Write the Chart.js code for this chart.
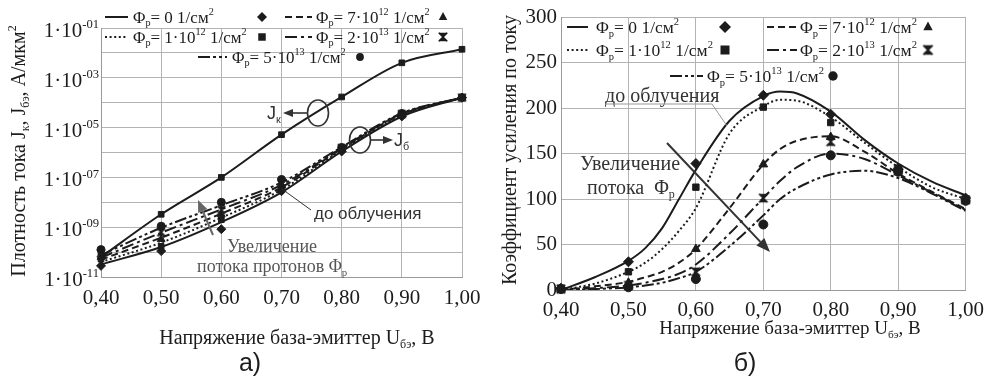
<!DOCTYPE html>
<html>
<head>
<meta charset="utf-8">
<script src="https://cdn.jsdelivr.net/npm/chart.js@4.4.1/dist/chart.umd.min.js"></script>
<style>
html,body{margin:0;padding:0;background:#fff;}
#wrap{position:relative;width:992px;height:383px;background:#fff;overflow:hidden;}
#p1{position:absolute;left:0;top:0;width:495px;height:383px;}
#p2{position:absolute;left:495px;top:0;width:497px;height:383px;}
</style>
</head>
<body>
<div id="wrap">
  <div id="p1"><canvas id="c1"></canvas></div>
  <div id="p2"><canvas id="c2"></canvas></div>
</div>
<script>
// ---------------- DATA ----------------
const voltages = [0.40, 0.50, 0.60, 0.70, 0.80, 0.90, 1.00];
const xTickLabels = ['0,40', '0,50', '0,60', '0,70', '0,80', '0,90', '1,00'];

// (a) current density, A/мкм² (log scale)
const jkLine   = [6.3e-11, 3.3e-9, 1.0e-7, 5.2e-6, 1.7e-4, 4.0e-3, 1.4e-2];
const jkMarks  = [8.0e-11, 3.3e-9, 1.0e-7, 5.2e-6, 1.7e-4, 4.0e-3, 1.4e-2];
const jb0Line    = [3.2e-11, 1.6e-10, 1.6e-9, 2.5e-8, 1.1e-6, 2.8e-5, 1.6e-4];
const jb1e12Line = [4.0e-11, 2.4e-10, 2.4e-9, 3.2e-8, 1.26e-6, 3.2e-5, 1.6e-4];
const jb7e12Line = [5.0e-11, 3.8e-10, 3.5e-9, 4.0e-8, 1.4e-6, 3.4e-5, 1.6e-4];
const jb2e13Line = [6.0e-11, 6.0e-10, 5.2e-9, 5.0e-8, 1.5e-6, 3.6e-5, 1.6e-4];
const jb5e13Line = [7.6e-11, 9.5e-10, 7.6e-9, 6.3e-8, 1.66e-6, 3.8e-5, 1.6e-4];
const jb0Marks    = [2.8e-11, 1.1e-10, 8.3e-10, 2.8e-8, 1.1e-6, 2.8e-5, 1.6e-4];
const jb1e12Marks = [5.2e-11, 1.7e-10, 2.0e-9, 3.5e-8, 1.3e-6, 3.3e-5, 1.6e-4];
const jb7e12Marks = [6.3e-11, 3.3e-10, 3.2e-9, 5.0e-8, 1.4e-6, 3.5e-5, 1.6e-4];
const jb2e13Marks = [8.9e-11, 6.3e-10, 5.0e-9, 6.3e-8, 1.5e-6, 3.5e-5, 1.6e-4];
const jb5e13Marks = [1.26e-10, 1.1e-9, 1.0e-8, 8.3e-8, 1.6e-6, 3.7e-5, 1.6e-4];
const leftDecades = [1e-11,1e-10,1e-9,1e-8,1e-7,1e-6,1e-5,1e-4,1e-3,1e-2,1e-1];
const leftTickValues = [1e-1, 1e-3, 1e-5, 1e-7, 1e-9, 1e-11];
const leftTickExps   = ['-01', '-03', '-05', '-07', '-09', '-11'];

// (б) current gain
const gainLineX  = [0.40,0.45,0.50,0.525,0.55,0.575,0.60,0.65,0.70,0.725,0.75,0.80,0.85,0.90,0.95,1.00];
const h0Line    = [0,14,32,46,68,100,132,186,213,218,216,196,165,139,119,104];
const h1e12Line = [0,7,20,30,45,65,90,172,202,209,208,190,162,135,113,100];
const h7e12Line = [0,4,9,14,20,30,45,90,138,155,164,169,152,128,108,89];
const h2e13Line = [0,2,5,8,12,18,28,62,101,120,135,150,144,126,107,88];
const h5e13Line = [0,1,3,5,8,13,20,48,82,100,112,127,131,123,106,87];
const h0Marks    = [2,31,139,214,193,133,101];
const h1e12Marks = [2,20,113,201,184,134,100];
const h7e12Marks = [1,8,45,138,168,132,99];
const h2e13Marks = [1,5,20,101,163,131,99];
const h5e13Marks = [1,3,12,72,148,130,98];
const gainTicks = [0,50,100,150,200,250,300];

// ---------------- STYLE ----------------
const SERIF = '"Liberation Serif", "Times New Roman", serif';
const SANS = '"Liberation Sans", Arial, sans-serif';
const INK = '#1c1c1c';
const GRID = '#b3b3b3';
const DASH = {
  solid: [], dot: [2, 2.6], dash: [7, 4], dashdot: [12, 4, 3, 4], dashdotdot: [12, 3, 3, 3, 3, 3]
};

function makeHourglass(r) {
  const c = document.createElement('canvas');
  const s = Math.ceil(r * 2 + 2);
  c.width = s; c.height = s;
  const g = c.getContext('2d');
  g.fillStyle = INK; g.strokeStyle = INK; g.lineWidth = 1.6;
  const m = s / 2, a = r * 0.85;
  g.beginPath(); g.moveTo(m - a, m - a); g.lineTo(m + a, m - a); g.lineTo(m, m); g.closePath(); g.fill();
  g.beginPath(); g.moveTo(m - a, m + a); g.lineTo(m + a, m + a); g.lineTo(m, m); g.closePath(); g.fill();
  g.beginPath(); g.moveTo(m - a, m - a); g.lineTo(m + a, m + a); g.moveTo(m + a, m - a); g.lineTo(m - a, m + a); g.stroke();
  return c;
}
const hourL = makeHourglass(4.5);
const hourR = makeHourglass(5);

function drawMarker(ctx, style, x, y, r) {
  ctx.save(); ctx.fillStyle = INK; ctx.strokeStyle = INK; ctx.setLineDash([]);
  ctx.beginPath();
  if (style === 'rectRot') { ctx.moveTo(x, y - r); ctx.lineTo(x + r, y); ctx.lineTo(x, y + r); ctx.lineTo(x - r, y); ctx.closePath(); ctx.fill(); }
  else if (style === 'rect') { const a = r * 0.75; ctx.rect(x - a, y - a, 2 * a, 2 * a); ctx.fill(); }
  else if (style === 'triangle') { ctx.moveTo(x, y - r); ctx.lineTo(x + r * 0.85, y + r * 0.6); ctx.lineTo(x - r * 0.85, y + r * 0.6); ctx.closePath(); ctx.fill(); }
  else if (style === 'circle') { ctx.arc(x, y, r * 0.78, 0, Math.PI * 2); ctx.fill(); }
  else if (style === 'hour') { const img = makeHourglass(r); ctx.drawImage(img, x - img.width / 2, y - img.height / 2); }
  ctx.restore();
}

function rich(ctx, parts, x, y, size, family, align, color) {
  ctx.save();
  ctx.fillStyle = color || INK;
  ctx.textBaseline = 'alphabetic';
  ctx.textAlign = 'left';
  const fs = p => (p[1] === 0 ? size : size * 0.6);
  const widths = parts.map(p => { ctx.font = fs(p) + 'px ' + family; return ctx.measureText(p[0]).width; });
  const total = widths.reduce((a, b) => a + b, 0);
  let cx = align === 'center' ? x - total / 2 : align === 'right' ? x - total : x;
  parts.forEach((p, i) => {
    ctx.font = fs(p) + 'px ' + family;
    const dy = p[1] === 1 ? -size * 0.42 : p[1] === -1 ? size * 0.22 : 0;
    ctx.fillText(p[0], cx, y + dy);
    cx += widths[i];
  });
  ctx.restore();
  return total;
}
function richRot(ctx, parts, cx, cy, size, family, color) {
  ctx.save(); ctx.translate(cx, cy); ctx.rotate(-Math.PI / 2);
  rich(ctx, parts, 0, size * 0.33, size, family, 'center', color);
  ctx.restore();
}
function arrow(ctx, x1, y1, x2, y2, color, lw, hl, hw) {
  ctx.save(); ctx.strokeStyle = color; ctx.fillStyle = color; ctx.lineWidth = lw; ctx.setLineDash([]);
  const ang = Math.atan2(y2 - y1, x2 - x1);
  const bx = x2 - hl * Math.cos(ang), by = y2 - hl * Math.sin(ang);
  ctx.beginPath(); ctx.moveTo(x1, y1); ctx.lineTo(bx, by); ctx.stroke();
  ctx.beginPath(); ctx.moveTo(x2, y2);
  ctx.lineTo(bx + hw * Math.sin(ang), by - hw * Math.cos(ang));
  ctx.lineTo(bx - hw * Math.sin(ang), by + hw * Math.cos(ang));
  ctx.closePath(); ctx.fill();
  ctx.restore();
}
function legendEntry(ctx, x1, x2, y, dash, textParts, tx, markerStyle, mx, size, r) {
  ctx.save(); ctx.strokeStyle = INK; ctx.lineWidth = 2; ctx.setLineDash(dash);
  ctx.beginPath(); ctx.moveTo(x1, y); ctx.lineTo(x2, y); ctx.stroke(); ctx.restore();
  rich(ctx, textParts, tx, y + size * 0.33, size, SERIF, 'left', INK);
  drawMarker(ctx, markerStyle, mx, y, r);
}
const phi = (rest) => [['Φ', 0], ['р', -1]].concat(rest);
const legendTexts = {
  f0: phi([['= 0 1/см', 0], ['2', 1]]),
  f1: phi([['= 1·10', 0], ['12', 1], [' 1/см', 0], ['2', 1]]),
  f7: phi([['= 7·10', 0], ['12', 1], [' 1/см', 0], ['2', 1]]),
  f2: phi([['= 2·10', 0], ['13', 1], [' 1/см', 0], ['2', 1]]),
  f5: phi([['= 5·10', 0], ['13', 1], [' 1/см', 0], ['2', 1]])
};

const xs = (arrX, arrY) => arrX.map((x, i) => ({ x: x, y: arrY[i] }));
function lineDS(xArr, yArr, dash, tension) {
  return { type: 'line', data: xs(xArr, yArr), borderColor: INK, borderWidth: 2, borderDash: dash,
    pointRadius: 0, tension: tension, cubicInterpolationMode: 'monotone', fill: false, order: 2 };
}
function markDS(xArr, yArr, style, r) {
  return { type: 'line', data: xs(xArr, yArr), showLine: false, pointStyle: style, pointRadius: r,
    pointBackgroundColor: INK, pointBorderColor: INK, pointBorderWidth: 1, clip: false, order: 1 };
}
function xScale(pad) {
  return {
    type: 'linear', min: 0.4, max: 1.0,
    afterBuildTicks: s => { s.ticks = voltages.map(v => ({ value: v })); },
    ticks: { callback: (v) => { const i = voltages.findIndex(t => Math.abs(t - v) < 1e-6); return i >= 0 ? xTickLabels[i] : ''; },
      font: { family: SERIF, size: 21 }, color: INK, padding: pad, maxRotation: 0, autoSkip: false },
    grid: { color: GRID, lineWidth: 1, drawTicks: false },
    border: { color: '#999', width: 1 },
    afterFit: s => { s.height = 40; }
  };
}

// ---------------- CHART (a) ----------------
const plugA = {
  id: 'plugA',
  afterDraw(chart) {
    const ctx = chart.ctx; const ys = chart.scales.y;
    leftTickValues.forEach((v, i) => {
      const y = ys.getPixelForValue(v);
      rich(ctx, [['1·10', 0], [leftTickExps[i], 1]], 99, y + 9, 21, SERIF, 'right', INK);
    });
    richRot(ctx, [['Плотность тока J', 0], ['к', -1], [', J', 0], ['бэ', -1], [', А/мкм', 0], ['2', 1]], 18, 151, 20, SERIF, INK);
    rich(ctx, [['Напряжение база-эмиттер U', 0], ['бэ', -1], [', В', 0]], 297, 344, 20, SERIF, 'center', INK);
    rich(ctx, [['а)', 0]], 250, 371, 25, SANS, 'center', INK);
    const s = 17;
    legendEntry(ctx, 105, 128, 17, DASH.solid, legendTexts.f0, 133, 'rectRot', 262, s, 5);
    legendEntry(ctx, 285, 312, 17, DASH.dash, legendTexts.f7, 316, 'triangle', 443, s, 5);
    legendEntry(ctx, 105, 128, 37, DASH.dot, legendTexts.f1, 133, 'rect', 262, s, 5);
    legendEntry(ctx, 285, 312, 37, DASH.dashdot, legendTexts.f2, 316, 'hour', 443, s, 5);
    legendEntry(ctx, 198, 227, 57, DASH.dashdotdot, legendTexts.f5, 232, 'circle', 360, s, 5);
    ctx.save(); ctx.strokeStyle = '#333'; ctx.lineWidth = 1.6;
    ctx.beginPath(); ctx.ellipse(318, 113, 10.5, 13, 0, 0, Math.PI * 2); ctx.stroke();
    ctx.beginPath(); ctx.ellipse(360, 140, 10.5, 13, 0, 0, Math.PI * 2); ctx.stroke();
    ctx.lineWidth = 1; ctx.beginPath(); ctx.moveTo(282, 189); ctx.lineTo(311, 210); ctx.stroke();
    ctx.restore();
    arrow(ctx, 308, 113, 283, 113, '#333', 1.6, 10, 4);
    arrow(ctx, 370, 140, 393, 140, '#333', 1.6, 10, 4);
    rich(ctx, [['J', 0], ['к', -1]], 267, 119, 18, SANS, 'left', '#333');
    rich(ctx, [['J', 0], ['б', -1]], 394, 146, 18, SANS, 'left', '#333');
    rich(ctx, [['до облучения', 0]], 314, 219, 17, SANS, 'left', '#333');
    rich(ctx, [['Увеличение', 0]], 227, 252, 18, SERIF, 'left', '#555');
    rich(ctx, [['потока протонов Φ', 0], ['р', -1]], 197, 272, 18, SERIF, 'left', '#555');
    arrow(ctx, 213, 235, 198, 200, '#666', 2, 12, 5);
  }
};

new Chart(document.getElementById('c1'), {
  type: 'line',
  data: {
    datasets: [
      lineDS(voltages, jkLine, DASH.solid, 0.4),
      lineDS(voltages, jb0Line, DASH.solid, 0.4),
      lineDS(voltages, jb1e12Line, DASH.dot, 0.4),
      lineDS(voltages, jb7e12Line, DASH.dash, 0.4),
      lineDS(voltages, jb2e13Line, DASH.dashdot, 0.4),
      lineDS(voltages, jb5e13Line, DASH.dashdotdot, 0.4),
      markDS(voltages, jkMarks, 'rect', 4),
      markDS(voltages, jb0Marks, 'rectRot', 4.5),
      markDS(voltages, jb1e12Marks, 'rect', 4),
      markDS(voltages, jb7e12Marks, 'triangle', 4.5),
      markDS(voltages, jb2e13Marks, hourL, 4.5),
      markDS(voltages, jb5e13Marks, 'circle', 4)
    ]
  },
  options: {
    responsive: true, maintainAspectRatio: false, animation: false,
    layout: { padding: { left: 0, right: 33, top: 28, bottom: 66 } },
    plugins: { legend: { display: false }, tooltip: { enabled: false } },
    scales: {
      x: xScale(9),
      y: {
        type: 'logarithmic', min: 1e-11, max: 1e-1,
        afterBuildTicks: s => { s.ticks = leftDecades.map(v => ({ value: v })); },
        ticks: { display: false },
        grid: { color: GRID, lineWidth: 1, drawTicks: false },
        border: { color: '#999', width: 1 },
        afterFit: s => { s.width = 101; }
      }
    }
  },
  plugins: [plugA]
});

// ---------------- CHART (б) ----------------
const OX = 495;
const plugB = {
  id: 'plugB',
  afterDraw(chart) {
    const ctx = chart.ctx;
    richRot(ctx, [['Коэффициент усиления по току', 0]], 509 - OX, 150, 20, SERIF, INK);
    rich(ctx, [['Напряжение база-эмиттер U', 0], ['бэ', -1], [', В', 0]], 790 - OX, 334, 19, SERIF, 'center', INK);
    rich(ctx, [['б)', 0]], 745 - OX, 371, 25, SANS, 'center', INK);
    const s = 17.5;
    legendEntry(ctx, 567 - OX, 588 - OX, 27, DASH.solid, legendTexts.f0, 596 - OX, 'rectRot', 725 - OX, s, 6);
    legendEntry(ctx, 767 - OX, 797 - OX, 27, DASH.dash, legendTexts.f7, 800 - OX, 'triangle', 928 - OX, s, 5.5);
    legendEntry(ctx, 567 - OX, 588 - OX, 50, DASH.dot, legendTexts.f1, 596 - OX, 'rect', 725 - OX, s, 6);
    legendEntry(ctx, 767 - OX, 797 - OX, 50, DASH.dashdot, legendTexts.f2, 800 - OX, 'hour', 928 - OX, s, 5.5);
    legendEntry(ctx, 670 - OX, 703 - OX, 76, DASH.dashdotdot, legendTexts.f5, 707 - OX, 'circle', 833 - OX, s, 6);
    rich(ctx, [['до облучения', 0]], 605 - OX, 102, 20, SERIF, 'left', '#333');
    ctx.save(); ctx.strokeStyle = '#999'; ctx.lineWidth = 1;
    ctx.beginPath(); ctx.moveTo(605 - OX, 104); ctx.lineTo(712 - OX, 104); ctx.lineTo(727 - OX, 126); ctx.stroke(); ctx.restore();
    rich(ctx, [['Увеличение', 0]], 580 - OX, 170, 20, SERIF, 'left', '#333');
    rich(ctx, [['потока  Φ', 0], ['р', -1]], 587 - OX, 194, 20, SERIF, 'left', '#333');
    arrow(ctx, 667 - OX, 143, 770 - OX, 252, '#333', 2, 14, 5.5);
  }
};

new Chart(document.getElementById('c2'), {
  type: 'line',
  data: {
    datasets: [
      lineDS(gainLineX, h0Line, DASH.solid, 0.4),
      lineDS(gainLineX, h1e12Line, DASH.dot, 0.4),
      lineDS(gainLineX, h7e12Line, DASH.dash, 0.4),
      lineDS(gainLineX, h2e13Line, DASH.dashdot, 0.4),
      lineDS(gainLineX, h5e13Line, DASH.dashdotdot, 0.4),
      markDS(voltages, h0Marks, 'rectRot', 5),
      markDS(voltages, h1e12Marks, 'rect', 4.5),
      markDS(voltages, h7e12Marks, 'triangle', 5),
      markDS(voltages, h2e13Marks, hourR, 5),
      markDS(voltages, h5e13Marks, 'circle', 4.5)
    ]
  },
  options: {
    responsive: true, maintainAspectRatio: false, animation: false,
    layout: { padding: { left: 0, right: 24, top: 17, bottom: 53 } },
    plugins: { legend: { display: false }, tooltip: { enabled: false } },
    scales: {
      x: xScale(8),
      y: {
        type: 'linear', min: 0, max: 300,
        afterBuildTicks: s => { s.ticks = gainTicks.map(v => ({ value: v })); },
        ticks: { font: { family: SERIF, size: 21 }, color: INK, padding: 4 },
        grid: { color: GRID, lineWidth: 1, drawTicks: false },
        border: { color: '#999', width: 1 },
        afterFit: s => { s.width = 66; }
      }
    }
  },
  plugins: [plugB]
});
</script>
</body>
</html>
